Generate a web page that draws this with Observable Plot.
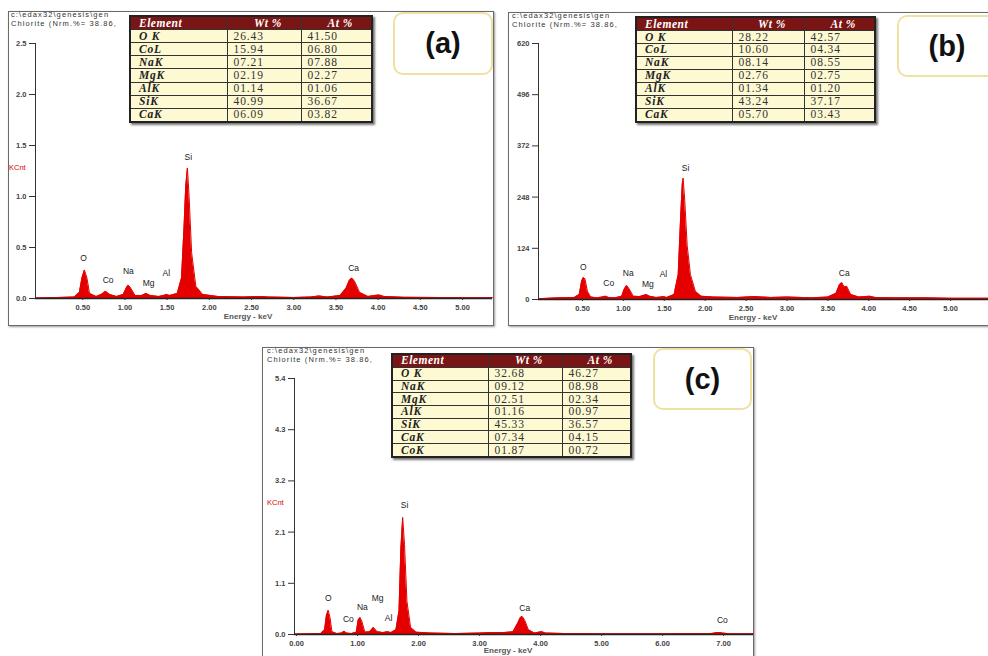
<!DOCTYPE html>
<html><head><meta charset="utf-8">
<script src="https://cdn.jsdelivr.net/npm/d3@7"></script>
<script src="https://cdn.jsdelivr.net/npm/@observablehq/plot@0.6"></script>
<style>
html,body{margin:0;padding:0;background:#fff;}
#wrap{position:relative;width:988px;height:656px;overflow:hidden;background:#fff;font-family:"Liberation Sans",Arial,sans-serif;}
.frame{position:absolute;border:1.5px solid #6a6a6a;box-sizing:border-box;background:#fff;box-shadow:1px 1px 2px #999;}
.hdr{position:absolute;font-size:7.5px;line-height:8.5px;color:#333;white-space:nowrap;letter-spacing:1.1px;}
.kcnt{position:absolute;font-size:7.5px;color:#e00000;}
.elab{position:absolute;font-size:8px;font-weight:bold;color:#555;transform:translateX(-50%);white-space:nowrap;}
.lbox{position:absolute;border:2px solid #efe0a4;border-radius:10px;background:#fff;box-sizing:border-box;display:flex;align-items:center;justify-content:center;font-family:"Liberation Sans",Arial,sans-serif;font-weight:bold;font-size:29px;color:#111;}
table.t{position:absolute;border-collapse:collapse;border:2px solid #222;font-family:"Liberation Serif","Times New Roman",serif;font-size:11.5px;box-shadow:2px 2px 2px #777;table-layout:fixed;}
table.t td,table.t th{box-sizing:border-box;border:1.5px solid #333;padding:0 0 0 8px;line-height:11px;text-align:left;overflow:hidden;white-space:nowrap;}
table.t th{background:#7a1515;color:#fff;font-style:italic;font-weight:bold;text-align:center;letter-spacing:0.5px;}
table.t th:first-child{text-align:left;}
table.t td{background:#fdf9d2;color:#333;}
table.t td:first-child{font-weight:bold;font-style:italic;color:#222;letter-spacing:0.8px;}
table.t td.n{padding-left:6px;letter-spacing:0.9px;}
</style></head>
<body><div id="wrap"></div>
<script>
// ---------- data ----------
const tableHeader = ["Element", "Wt %", "At %"];
const elementsA = ["O K", "CoL", "NaK", "MgK", "AlK", "SiK", "CaK"];
const wtA = ["26.43", "15.94", "07.21", "02.19", "01.14", "40.99", "06.09"];
const atA = ["41.50", "06.80", "07.88", "02.27", "01.06", "36.67", "03.82"];
const elementsB = ["O K", "CoL", "NaK", "MgK", "AlK", "SiK", "CaK"];
const wtB = ["28.22", "10.60", "08.14", "02.76", "01.34", "43.24", "05.70"];
const atB = ["42.57", "04.34", "08.55", "02.75", "01.20", "37.17", "03.43"];
const elementsC = ["O K", "NaK", "MgK", "AlK", "SiK", "CaK", "CoK"];
const wtC = ["32.68", "09.12", "02.51", "01.16", "45.33", "07.34", "01.87"];
const atC = ["46.27", "08.98", "02.34", "00.97", "36.57", "04.15", "00.72"];

// spectrum (a), KCnt
const energyA = [-0.06,0.2,0.40,0.46,0.49,0.52,0.55,0.58,0.66,0.72,0.77,0.82,0.90,0.98,1.02,1.04,1.07,1.12,1.20,1.25,1.30,1.40,1.46,1.49,1.53,1.62,1.67,1.70,1.72,1.74,1.76,1.79,1.84,1.92,2.10,2.40,2.60,2.70,3.00,3.20,3.30,3.40,3.55,3.62,3.66,3.69,3.72,3.78,3.88,3.96,4.01,4.07,4.30,4.70,5.00,5.355];
const countA = [0.005,0.01,0.015,0.06,0.2,0.28,0.2,0.05,0.02,0.04,0.07,0.04,0.02,0.04,0.11,0.13,0.1,0.03,0.03,0.05,0.03,0.02,0.03,0.04,0.03,0.05,0.2,0.7,1.1,1.28,1.0,0.45,0.12,0.04,0.02,0.015,0.02,0.015,0.01,0.015,0.025,0.015,0.03,0.1,0.18,0.2,0.17,0.06,0.02,0.03,0.035,0.02,0.012,0.01,0.008,0.008];
// spectrum (b), counts
const energyB = [-0.038,0.2,0.40,0.46,0.49,0.51,0.53,0.56,0.60,0.68,0.74,0.78,0.82,0.90,0.98,1.01,1.04,1.07,1.12,1.20,1.25,1.28,1.32,1.40,1.46,1.49,1.53,1.62,1.67,1.70,1.72,1.73,1.75,1.78,1.82,1.88,1.95,2.10,2.40,2.60,2.80,3.00,3.30,3.50,3.60,3.64,3.67,3.70,3.73,3.78,3.88,3.96,4.01,4.08,4.30,4.70,5.00,5.464];
const countB = [2,4,5,12,45,53,50,20,6,4,6,8,5,4,8,25,34,26,8,7,10,12,8,5,6,7,5,12,60,200,280,294,240,130,60,20,8,6,5,7,5,6,4,6,15,35,41,30,32,12,6,7,8,5,4,4,3,3];
// spectrum (c), KCnt
const energyC = [-0.033,0.2,0.40,0.46,0.49,0.52,0.55,0.58,0.66,0.74,0.78,0.82,0.90,0.98,1.01,1.04,1.07,1.12,1.20,1.26,1.32,1.42,1.49,1.55,1.63,1.68,1.71,1.74,1.77,1.81,1.87,1.96,2.20,2.60,3.00,3.20,3.40,3.55,3.63,3.67,3.70,3.74,3.80,3.90,3.97,4.02,4.08,4.40,5.00,6.00,6.80,6.90,6.94,6.98,7.10,7.49];
const countC = [0.01,0.015,0.02,0.1,0.4,0.51,0.35,0.06,0.02,0.03,0.07,0.03,0.02,0.05,0.3,0.36,0.28,0.05,0.06,0.15,0.06,0.04,0.06,0.04,0.1,0.5,1.8,2.47,1.9,0.7,0.15,0.05,0.03,0.02,0.03,0.04,0.04,0.06,0.25,0.36,0.38,0.3,0.1,0.03,0.05,0.06,0.03,0.02,0.015,0.015,0.02,0.04,0.04,0.03,0.015,0.015];

// peak labels
const peakNamesA = ["O","Co","Na","Mg","Al","Si","Ca"];
const peakXA = [0.51,0.80,1.04,1.28,1.49,1.75,3.71];
const peakYA = [0.39,0.18,0.27,0.15,0.25,1.38,0.30];
const peakNamesB = ["O","Co","Na","Mg","Al","Si","Ca"];
const peakXB = [0.51,0.82,1.06,1.30,1.49,1.76,3.70];
const peakYB = [78,39,63,36,61,318,63];
const peakNamesC = ["O","Co","Na","Mg","Al","Si","Ca","Co"];
const peakXC = [0.52,0.85,1.08,1.33,1.51,1.77,3.74,6.98];
const peakYC = [0.76,0.32,0.57,0.76,0.34,2.72,0.55,0.30];

// ticks
const yTicksA = [0,0.5,1.0,1.5,2.0,2.5];
const yTickLabelsA = ["0.0","0.5","1.0","1.5","2.0","2.5"];
const xTicksA = [0.5,1,1.5,2,2.5,3,3.5,4,4.5,5];
const yTicksB = [0,124,248,372,496,620];
const yTickLabelsB = ["0","124","248","372","496","620"];
const xTicksB = [0.5,1,1.5,2,2.5,3,3.5,4,4.5,5];
const yTicksC = [0,1.08,2.16,3.24,4.32,5.4];
const yTickLabelsC = ["0.0","1.1","2.1","3.2","4.3","5.4"];
const xTicksC = [0,1,2,3,4,5,6,7];

const headerLine1 = "c:\\edax32\\genesis\\gen";
const headerLine2 = "Chlorite (Nrm.%= 38.86,";
const xLabel = "Energy - keV";
const yUnit = "KCnt";

// ---------- drawing ----------
const wrap = document.getElementById("wrap");
const RED = "#e50000";

function panel(o) {
  const f = document.createElement("div");
  f.className = "frame";
  Object.assign(f.style, {left: o.left + "px", top: o.top + "px", width: o.fw + "px", height: o.fh + "px"});
  wrap.appendChild(f);

  const spec = o.energy.map((e, i) => ({e, c: o.count[i]}));
  const labs = o.names.map((n, i) => ({n, x: o.px[i], y: o.py[i]}));
  const chart = Plot.plot({
    width: o.w, height: o.h,
    marginLeft: o.ml, marginRight: o.mr, marginTop: o.mt, marginBottom: o.mb,
    style: {fontFamily: "Liberation Sans, Arial, sans-serif", fontSize: "8px", background: "transparent", overflow: "visible"},
    x: {domain: o.xd, label: null},
    y: {domain: o.yd, label: null},
    marks: [
      Plot.areaY(spec, {x: "e", y: "c", fill: RED, curve: "linear"}),
      Plot.lineY(spec, {x: "e", y: "c", stroke: RED, strokeWidth: 1, curve: "linear"}),
      Plot.ruleY([0], {stroke: "#222", strokeWidth: 1.3}),
      Plot.ruleX([o.xd[0]], {stroke: "#333", strokeWidth: 1}),
      Plot.axisY({ticks: o.yt, tickFormat: (d) => o.ytl[o.yt.indexOf(d)], tickSize: 6, tickPadding: 3, stroke: "#333", fill: "#444", fontWeight: "bold", fontSize: 7.5, label: null}),
      Plot.axisX({ticks: o.xt, tickFormat: d => d.toFixed(2), tickSize: 2, tickPadding: 4, stroke: "#333", fill: "#444", fontWeight: "bold", fontSize: 7.5, label: null}),
      Plot.text(labs, {x: "x", y: "y", text: "n", fill: "#222", fontSize: 8.5, fontWeight: "normal"})
    ]
  });
  chart.style.position = "absolute";
  chart.style.left = o.left + "px";
  chart.style.top = o.top + "px";
  wrap.appendChild(chart);

  const h = document.createElement("div");
  h.className = "hdr";
  h.innerHTML = headerLine1 + "<br>" + headerLine2;
  Object.assign(h.style, {left: o.hx + "px", top: o.hy + "px"});
  wrap.appendChild(h);

  if (o.kx != null) {
    const k = document.createElement("div");
    k.className = "kcnt"; k.textContent = yUnit;
    Object.assign(k.style, {left: o.kx + "px", top: o.ky + "px"});
    wrap.appendChild(k);
  }
  const xl = document.createElement("div");
  xl.className = "elab"; xl.textContent = xLabel;
  Object.assign(xl.style, {left: o.xlx + "px", top: o.xly + "px"});
  wrap.appendChild(xl);

  const t = document.createElement("table");
  t.className = "t";
  Object.assign(t.style, {left: o.tl + "px", top: o.tt + "px", width: o.tw + "px", height: o.th + "px"});
  let html = "<tr>" + tableHeader.map((d, i) => `<th style="width:${o.cw[i]}px">${d}</th>`).join("") + "</tr>";
  o.els.forEach((el, i) => {
    html += `<tr><td>${el}</td><td class="n">${o.wt[i]}</td><td class="n">${o.at[i]}</td></tr>`;
  });
  t.innerHTML = html;
  wrap.appendChild(t);

  const b = document.createElement("div");
  b.className = "lbox"; b.textContent = o.tag;
  Object.assign(b.style, {left: o.bl + "px", top: o.bt + "px", width: o.bw + "px", height: o.bh + "px"});
  if (o.bpad) b.style.paddingRight = o.bpad + "px";
  wrap.appendChild(b);
}

panel({
  left: 8, top: 11, fw: 486, fh: 315, w: 485, h: 314, ml: 27, mr: 1, mt: 32, mb: 27,
  xd: [-0.06, 5.355], yd: [0, 2.5], yt: yTicksA, ytl: yTickLabelsA, xt: xTicksA,
  energy: energyA, count: countA, names: peakNamesA, px: peakXA, py: peakYA,
  hx: 11, hy: 11, kx: 9, ky: 163, xlx: 248, xly: 312,
  tl: 129, tt: 15, tw: 242, th: 108, cw: [97, 74, 71], els: elementsA, wt: wtA, at: atA,
  tag: "(a)", bl: 393, bt: 12, bw: 100, bh: 63
});
panel({
  left: 508, top: 12, fw: 520, fh: 314, w: 500, h: 314, ml: 30, mr: 20, mt: 31, mb: 27,
  xd: [-0.038, 5.464], yd: [0, 620], yt: yTicksB, ytl: yTickLabelsB, xt: xTicksB,
  energy: energyB, count: countB, names: peakNamesB, px: peakXB, py: peakYB,
  hx: 512, hy: 12, kx: null, xlx: 753, xly: 313,
  tl: 635, tt: 16, tw: 239, th: 107, cw: [96, 72, 71], els: elementsB, wt: wtB, at: atB,
  tag: "(b)", bl: 897, bt: 15, bw: 110, bh: 62, bpad: 10
});
panel({
  left: 262, top: 347, fw: 492, fh: 320, w: 491, h: 314, ml: 32, mr: 0, mt: 31, mb: 27,
  xd: [-0.033, 7.49], yd: [0, 5.4], yt: yTicksC, ytl: yTickLabelsC, xt: xTicksC,
  energy: energyC, count: countC, names: peakNamesC, px: peakXC, py: peakYC,
  hx: 267, hy: 347, kx: 267, ky: 498, xlx: 508, xly: 646,
  tl: 391, tt: 353, tw: 239, th: 105, cw: [96, 74, 69], els: elementsC, wt: wtC, at: atC,
  tag: "(c)", bl: 653, bt: 348, bw: 99, bh: 62
});
</script>
</body></html>
